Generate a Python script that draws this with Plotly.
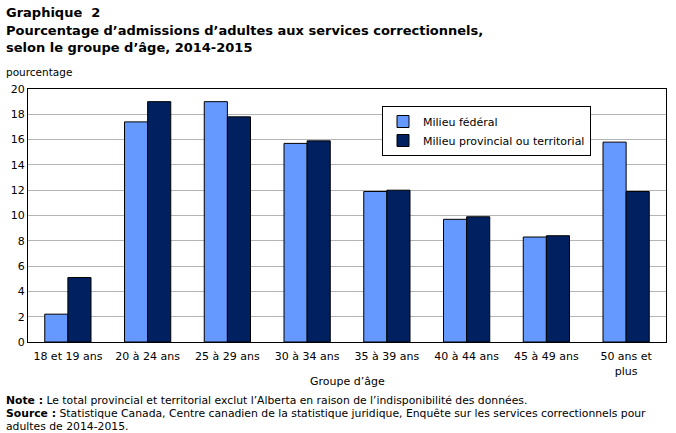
import plotly.graph_objects as go

categories = ["18 et 19 ans", "20 à 24 ans", "25 à 29 ans", "30 à 34 ans",
              "35 à 39 ans", "40 à 44 ans", "45 à 49 ans", "50 ans et<br>plus"]
federal = [2.2, 17.4, 19.0, 15.7, 11.9, 9.7, 8.3, 15.8]
provincial = [5.1, 19.0, 17.8, 15.9, 12.0, 9.9, 8.4, 11.9]
series_names = ["Milieu fédéral", "Milieu provincial ou territorial"]
y_ticks = [0, 2, 4, 6, 8, 10, 12, 14, 16, 18, 20]

W, H = 676, 433
ML, MR, MT, MB = 28, 10, 89, 91
PW, PH = W - ML - MR, H - MT - MB


def px_x(x):
    return (x - ML) / PW


def px_y(y):
    return (H - MB - y) / PH


fig = go.Figure()
fig.add_bar(x=categories, y=federal, name=series_names[0],
            marker=dict(color="#6699FF", line=dict(color="#000000", width=1)))
fig.add_bar(x=categories, y=provincial, name=series_names[1],
            marker=dict(color="#00205F", line=dict(color="#000000", width=1)))

font_main = "DejaVu Sans, Verdana, sans-serif"

fig.update_layout(
    width=W, height=H,
    margin=dict(l=ML, r=MR, t=MT, b=MB, pad=0),
    paper_bgcolor="white", plot_bgcolor="white",
    barmode="group", bargap=0.42, bargroupgap=0,
    font=dict(family=font_main, size=11, color="#000000"),
    showlegend=True,
    legend=dict(x=px_x(382), y=px_y(106),
                xanchor="left", yanchor="top",
                bordercolor="#000000", borderwidth=1, bgcolor="white",
                font=dict(size=11), itemwidth=30, tracegroupgap=3),
    xaxis=dict(showline=True, linecolor="#000000", linewidth=1, mirror=True,
               ticks="", tickfont=dict(size=11), ticklabelstandoff=4),
    yaxis=dict(range=[0, 20], tickvals=y_ticks, showgrid=True, gridcolor="#B4B4B4",
               gridwidth=1, showline=True, linecolor="#000000", linewidth=1, mirror=True,
               ticks="", tickfont=dict(size=11), zeroline=False),
)

# x-axis title
fig.add_annotation(text="Groupe d’âge", xref="paper", yref="paper",
                   x=0.5, y=px_y(381), xanchor="center", yanchor="middle",
                   showarrow=False, font=dict(size=11, family=font_main))

anns = [
    ("<b>Graphique  2</b>", 12),
    ("<b>Pourcentage d’admissions d’adultes aux services correctionnels,</b>", 30),
    ("<b>selon le groupe d’âge, 2014-2015</b>", 47),
]
for t, yy in anns:
    fig.add_annotation(text=t, xref="paper", yref="paper",
                       x=px_x(4), y=px_y(yy),
                       xanchor="left", yanchor="middle", showarrow=False,
                       font=dict(size=13, family=font_main))

small = [
    ("pourcentage", 72, 10.5),
    ("<b>Note :</b> Le total provincial et territorial exclut l’Alberta en raison de l’indisponibilité des données.", 400, 10.8),
    ("<b>Source :</b> Statistique Canada, Centre canadien de la statistique juridique, Enquête sur les services correctionnels pour", 413, 10.8),
    ("adultes de 2014-2015.", 426, 10.8),
]
for t, yy, fs in small:
    fig.add_annotation(text=t, xref="paper", yref="paper",
                       x=px_x(4), y=px_y(yy),
                       xanchor="left", yanchor="middle", showarrow=False,
                       font=dict(size=fs, family=font_main))

fig.write_html("out.html")
